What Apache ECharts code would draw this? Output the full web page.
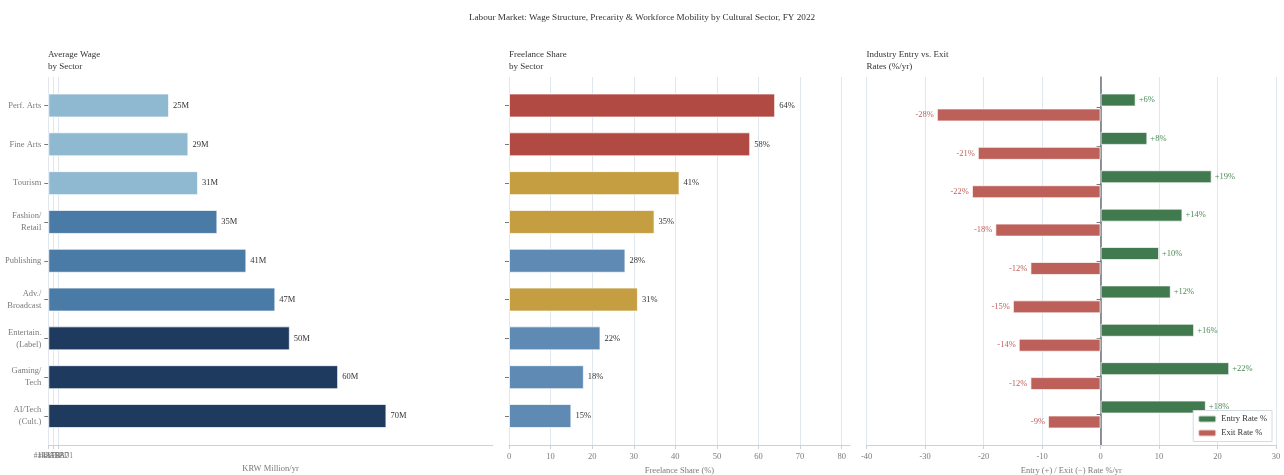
<!DOCTYPE html>
<html><head><meta charset="utf-8">
<script src="https://cdn.jsdelivr.net/npm/echarts@6/dist/echarts.min.js"></script>
<style>html,body{margin:0;padding:0;background:#fff}#c{width:1284px;height:475px}</style>
</head><body><div id="c"></div>
<script>
const categories = ['Perf. Arts','Fine Arts','Tourism','Fashion/\nRetail','Publishing','Adv./\nBroadcast','Entertain.\n(Label)','Gaming/\nTech','AI/Tech\n(Cult.)'];
const avgWage = [25,29,31,35,41,47,50,60,70];
const freelanceShare = [64,58,41,35,28,31,22,18,15];
const entryRate = [6,8,19,14,10,12,16,22,18];
const exitRate = [-28,-21,-22,-18,-12,-15,-14,-12,-9];
const wageTickLabels = ['#1E3A5F','#4A7BA7','#8FB8D1'];
const wageTier = [2,2,2,1,1,1,0,0,0];
const freelanceTier = [0,0,1,1,2,1,2,2,2];

const FONT = 'Liberation Serif';
const wageColors = ['#1E3A5F','#4A7BA7','#8FB8D1'];
const freeColors = ['#B04A42','#C49E40','#5E8AB4'];
const GRID_C = '#e1e7ee';
const AX_C = '#c9d2db';
const TXT = '#333';
const LBL = '#7a7a7a';

const chart = echarts.init(document.getElementById('c'), null, {renderer:'canvas'});

const BG_TOP = 77, BG_H = 368;
const panels = {
  L: {left:48.3, width:444.4, top:86.1, height:349.3},
  M: {left:509, width:341, top:86.1, height:349.3},
  R: {left:866.7, width:409.3, top:88.3, height:345.4}
};
const mkGrid = (o) => Object.assign({outerBoundsMode:'none', containLabel:false}, o);

const hiddenY = (gi) => ({type:'value', gridIndex:gi, min:0, max:1, show:false});
const fgY = (gi, showLabels) => ({
  type:'category', gridIndex:gi, data:categories, inverse:true,
  axisLine:{show:false},
  axisTick:{show:true, alignWithLabel:true, length:4, lineStyle:{color:'#777'}},
  axisLabel:{show:showLabels, color:LBL, fontFamily:FONT, fontSize:8.5, margin:7, lineHeight:12},
  splitLine:{show:false}
});
const subTitle = (text, left) => ({text, left, top:48.5, padding:0,
  textStyle:{fontFamily:FONT, fontSize:9, fontWeight:'normal', color:TXT, lineHeight:12}});

const midSplitColors = [GRID_C,GRID_C,GRID_C,GRID_C,GRID_C,GRID_C,GRID_C,GRID_C,GRID_C,'rgba(0,0,0,0)'];
const NAME_GAP = 19;

const option = {
  animation:false,
  backgroundColor:'#fff',
  textStyle:{fontFamily:FONT},
  title:[
    {text:'Labour Market: Wage Structure, Precarity & Workforce Mobility by Cultural Sector, FY 2022', left:'center', top:13, padding:0,
     textStyle:{fontFamily:FONT, fontSize:9.2, fontWeight:'normal', color:TXT}},
    subTitle('Average Wage\nby Sector', 48),
    subTitle('Freelance Share\nby Sector', 509),
    subTitle('Industry Entry vs. Exit\nRates (%/yr)', 866.5)
  ],
  legend:{
    data:['Entry Rate %','Exit Rate %'], orient:'vertical', right:12, bottom:33.5,
    backgroundColor:'#fff', borderColor:'#d4dbe2', borderWidth:1, padding:[4,5,4,4],
    itemWidth:18, itemHeight:7, itemGap:5,
    textStyle:{fontFamily:FONT, fontSize:8.5, color:TXT}
  },
  grid:[
    mkGrid({left:panels.L.left, width:panels.L.width, top:BG_TOP, height:BG_H}),      // 0 left bg
    mkGrid({left:panels.L.left, width:10, top:BG_TOP, height:BG_H}),                    // 1 left odd ticks
    mkGrid(panels.L),                                                                   // 2 left fg
    mkGrid({left:panels.M.left, width:panels.M.width, top:BG_TOP, height:BG_H}),      // 3 mid bg
    mkGrid(panels.M),                                                                   // 4 mid fg
    mkGrid({left:panels.R.left, width:panels.R.width, top:BG_TOP, height:BG_H}),      // 5 right bg
    mkGrid(panels.R)                                                                    // 6 right fg
  ],
  xAxis:[
    {type:'value', gridIndex:0, min:0, max:92, position:'bottom',
     axisLine:{show:true, onZero:false, lineStyle:{color:AX_C}}, axisTick:{show:false}, axisLabel:{show:false}, splitLine:{show:false},
     name:'KRW Million/yr', nameLocation:'middle', nameGap:NAME_GAP, nameTextStyle:{fontFamily:FONT, fontSize:8.5, color:LBL}},
    {type:'category', gridIndex:1, data:wageTickLabels, boundaryGap:false, position:'bottom',
     axisLine:{show:false, onZero:false}, axisTick:{show:true, length:4, lineStyle:{color:AX_C}},
     axisLabel:{show:true, interval:0, color:LBL, fontFamily:FONT, fontSize:7.5, margin:7},
     splitLine:{show:true, lineStyle:{color:GRID_C, width:1}}},
    {type:'value', gridIndex:2, min:0, max:92, show:false},
    {type:'value', gridIndex:3, min:0, max:82, interval:10, position:'bottom',
     axisLine:{show:true, onZero:false, lineStyle:{color:AX_C}}, axisTick:{show:true, length:4, lineStyle:{color:AX_C}},
     axisLabel:{color:LBL, fontFamily:FONT, fontSize:8.5, margin:7, showMaxLabel:false, formatter:v=> (v%10===0? String(v):'')},
     splitLine:{show:true, lineStyle:{color:midSplitColors, width:1}},
     name:'Freelance Share (%)', nameLocation:'middle', nameGap:NAME_GAP, nameTextStyle:{fontFamily:FONT, fontSize:8.5, color:LBL}},
    {type:'value', gridIndex:4, min:0, max:82, show:false},
    {type:'value', gridIndex:5, min:-40, max:30, interval:10, position:'bottom',
     axisLine:{show:true, onZero:false, lineStyle:{color:AX_C}}, axisTick:{show:true, length:4, lineStyle:{color:AX_C}},
     axisLabel:{color:LBL, fontFamily:FONT, fontSize:8.5, margin:7},
     splitLine:{show:true, lineStyle:{color:GRID_C, width:1}},
     name:'Entry (+) / Exit (\u2212) Rate %/yr', nameLocation:'middle', nameGap:NAME_GAP, nameTextStyle:{fontFamily:FONT, fontSize:8.5, color:LBL}},
    {type:'value', gridIndex:6, min:-40, max:30, show:false}
  ],
  yAxis:[
    hiddenY(0), hiddenY(1),
    fgY(2, true),
    hiddenY(3),
    fgY(4, false),
    {type:'value', gridIndex:5, min:0, max:1, axisLine:{show:true, onZero:true, lineStyle:{color:'#6b6f75', width:1.5}}, axisTick:{show:false}, axisLabel:{show:false}, splitLine:{show:false}},
    fgY(6, false)
  ],
  series:[
    {type:'bar', name:'Average Wage', xAxisIndex:2, yAxisIndex:2, barWidth:24,
     data: avgWage.map((v,i)=>({value:v, itemStyle:{color:wageColors[wageTier[i]]}})),
     itemStyle:{borderColor:'rgba(255,255,255,0.7)', borderWidth:1},
     label:{show:true, position:'right', distance:4, color:TXT, fontFamily:FONT, fontSize:8.5, formatter:p=>p.value+'M'}},
    {type:'bar', name:'Freelance Share', xAxisIndex:4, yAxisIndex:4, barWidth:24,
     data: freelanceShare.map((v,i)=>({value:v, itemStyle:{color:freeColors[freelanceTier[i]]}})),
     itemStyle:{borderColor:'rgba(255,255,255,0.7)', borderWidth:1},
     label:{show:true, position:'right', distance:4, color:TXT, fontFamily:FONT, fontSize:8.5, formatter:p=>p.value+'%'}},
    {type:'bar', name:'Entry Rate %', xAxisIndex:6, yAxisIndex:6, barWidth:13, barGap:'15%',
     data: entryRate, itemStyle:{color:'#407A4E', borderColor:'rgba(255,255,255,0.7)', borderWidth:1},
     label:{show:true, position:'right', distance:3, color:'#4C8A5A', fontFamily:FONT, fontSize:8.5, formatter:p=>'+'+p.value+'%'}},
    {type:'bar', name:'Exit Rate %', xAxisIndex:6, yAxisIndex:6, barWidth:13, barGap:'15%',
     data: exitRate, itemStyle:{color:'#BE605A', borderColor:'rgba(255,255,255,0.7)', borderWidth:1},
     label:{show:true, position:'left', distance:3, color:'#C0625B', fontFamily:FONT, fontSize:8.5, formatter:p=>p.value+'%'}}
  ]
};
chart.setOption(option);
</script>
</body></html>
